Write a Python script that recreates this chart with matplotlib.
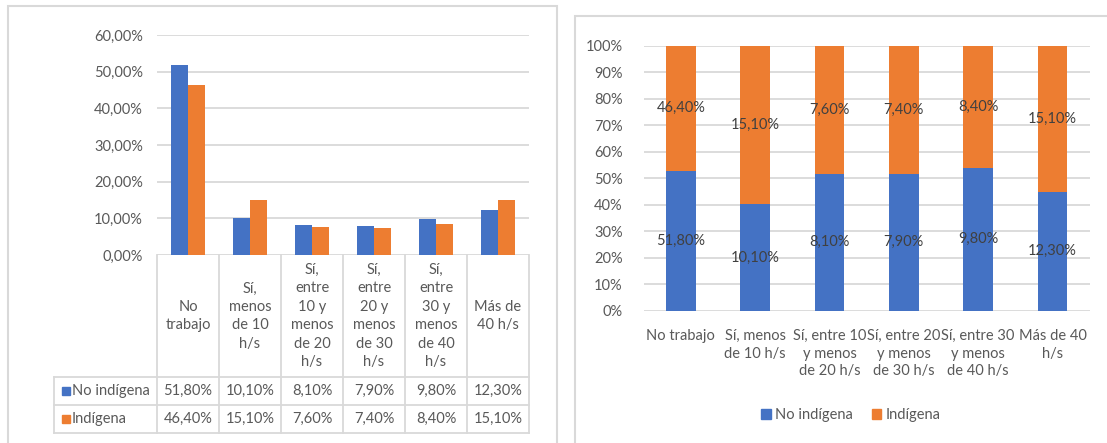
import matplotlib
matplotlib.use("Agg")
import matplotlib.pyplot as plt
import matplotlib.transforms as mtrans
from matplotlib.patches import Rectangle, Patch
from matplotlib.lines import Line2D

# ---------------- data ----------------
categories_chart = ["No trabajo", "Sí, menos\nde 10 h/s", "Sí, entre 10\ny menos\nde 20 h/s",
                    "Sí, entre 20\ny menos\nde 30 h/s", "Sí, entre 30\ny menos\nde 40 h/s",
                    "Más de 40\nh/s"]
categories_table = ["No\ntrabajo", "Sí,\nmenos\nde 10\nh/s", "Sí,\nentre\n10 y\nmenos\nde 20\nh/s",
                    "Sí,\nentre\n20 y\nmenos\nde 30\nh/s", "Sí,\nentre\n30 y\nmenos\nde 40\nh/s",
                    "Más de\n40 h/s"]
series_names = ["No indígena", "Indígena"]
no_indigena = [51.8, 10.1, 8.1, 7.9, 9.8, 12.3]
indigena = [46.4, 15.1, 7.6, 7.4, 8.4, 15.1]
left_ticks = [0, 10, 20, 30, 40, 50, 60]
right_ticks = [0, 10, 20, 30, 40, 50, 60, 70, 80, 90, 100]

BLUE = "#4472C4"
ORANGE = "#ED7D31"
GRID = "#D9D9D9"
TXT = "#595959"
LBL = "#404040"
FONT = "Lato"
FS = 10.5

W, H = 1107, 443
fig = plt.figure(figsize=(W / 100, H / 100), dpi=100)
fig.patch.set_facecolor("white")
plt.rcParams["font.family"] = [FONT, "DejaVu Sans"]


def fx(x):
    return x / W


def fy(y):
    return 1 - y / H


def fmt(v, dec=2):
    return (f"{v:.{dec}f}%").replace(".", ",")


# panel borders
fig.add_artist(Rectangle((fx(8), fy(445)), fx(557) - fx(8), fy(6) - fy(445),
                         transform=fig.transFigure, fill=False, edgecolor=GRID, lw=1.5))
fig.add_artist(Rectangle((fx(575), fy(445)), fx(1112) - fx(575), fy(16) - fy(445),
                         transform=fig.transFigure, fill=False, edgecolor=GRID, lw=1.5))

# ---------------- left chart ----------------
L_left, L_right, L_top, L_bot = 157, 529, 35, 255
ax1 = fig.add_axes([fx(L_left), fy(L_bot), fx(L_right) - fx(L_left), fy(L_top) - fy(L_bot)])
n = len(categories_chart)
xs = list(range(n))
bw = 0.28
ax1.bar([x - bw / 2 for x in xs], no_indigena, width=bw, color=BLUE, zorder=3)
ax1.bar([x + bw / 2 for x in xs], indigena, width=bw, color=ORANGE, zorder=3)
ax1.set_xlim(-0.5, n - 0.5)
ax1.set_ylim(0, 60)
ax1.set_yticks(left_ticks)
ax1.set_yticklabels([fmt(t) for t in left_ticks])
ax1.tick_params(axis="y", length=0, pad=10, labelsize=FS, labelcolor=TXT)
ax1.set_xticks([])
for s in ax1.spines.values():
    s.set_visible(False)
ax1.yaxis.grid(True, color=GRID, lw=1.3, zorder=0)
ax1.set_axisbelow(True)

# data table under the left chart
bt = mtrans.blended_transform_factory(ax1.transData, fig.transFigure)
px_per_cat = (L_right - L_left) / n
key_left_x = -0.5 - (L_left - 54) / px_per_cat
y_hdr_top, y_r1, y_r2, y_r3 = 255, 377, 405, 433
for b in [i - 0.5 for i in range(n + 1)]:
    fig.add_artist(Line2D([b, b], [fy(y_hdr_top), fy(y_r3)], transform=bt, color=GRID, lw=1.3))
fig.add_artist(Line2D([key_left_x, key_left_x], [fy(y_r1), fy(y_r3)], transform=bt, color=GRID, lw=1.3))
for yy in [y_r1, y_r2, y_r3]:
    fig.add_artist(Line2D([key_left_x, n - 0.5], [fy(yy), fy(yy)], transform=bt, color=GRID, lw=1.3))
for i, lab in enumerate(categories_table):
    fig.text(i, fy((y_hdr_top + y_r1) / 2), lab, transform=bt, ha="center", va="center",
             fontsize=FS, color=TXT, linespacing=1.4, family=[FONT, "DejaVu Sans"])
for row, (vals, col, name) in enumerate([(no_indigena, BLUE, series_names[0]),
                                          (indigena, ORANGE, series_names[1])]):
    ytop = [y_r1, y_r2][row]
    yc = ytop + 14
    fig.add_artist(Rectangle((fx(62), fy(yc + 4)), fx(70) - fx(62), fy(yc - 4) - fy(yc + 4),
                             transform=fig.transFigure, color=col))
    fig.text(fx(72), fy(yc), name, ha="left", va="center", fontsize=FS, color=TXT,
             family=[FONT, "DejaVu Sans"])
    for i, v in enumerate(vals):
        fig.text(i, fy(yc), fmt(v), transform=bt, ha="center", va="center", fontsize=FS,
                 color=TXT, family=[FONT, "DejaVu Sans"])

# ---------------- right chart ----------------
R_left, R_right, R_top, R_bot = 643.7, 1089.6, 45.7, 310.7
ax2 = fig.add_axes([fx(R_left), fy(R_bot), fx(R_right) - fx(R_left), fy(R_top) - fy(R_bot)])
tot = [a + b for a, b in zip(no_indigena, indigena)]
p_no = [a / t * 100 for a, t in zip(no_indigena, tot)]
p_in = [b / t * 100 for b, t in zip(indigena, tot)]
ax2.bar(xs, p_no, width=0.4, color=BLUE, zorder=3)
ax2.bar(xs, p_in, width=0.4, bottom=p_no, color=ORANGE, zorder=3)
for i in xs:
    ax2.text(i, p_no[i] / 2, fmt(no_indigena[i]), ha="center", va="center", fontsize=FS,
             color=LBL, zorder=4)
    ax2.text(i, p_no[i] + p_in[i] / 2, fmt(indigena[i]), ha="center", va="center", fontsize=FS,
             color=LBL, zorder=4)
ax2.set_xlim(-0.5, n - 0.5)
ax2.set_ylim(0, 100)
ax2.set_yticks(right_ticks)
ax2.set_yticklabels([f"{t}%" for t in right_ticks])
ax2.set_xticks(xs)
ax2.set_xticklabels(categories_chart, linespacing=1.35)
ax2.tick_params(axis="y", length=0, pad=15, labelsize=FS, labelcolor=TXT)
ax2.tick_params(axis="x", length=0, pad=13, labelsize=FS, labelcolor=TXT)
for s in ax2.spines.values():
    s.set_visible(False)
ax2.yaxis.grid(True, color=GRID, lw=1.3, zorder=0)
ax2.set_axisbelow(True)

handles = [Patch(color=BLUE, label=series_names[0]), Patch(color=ORANGE, label=series_names[1])]
fig.legend(handles=handles, loc="center", bbox_to_anchor=(fx(851), fy(415)), ncol=2,
           frameon=False, fontsize=FS, handlelength=0.65, handleheight=0.65, handletextpad=0.3,
           columnspacing=1.3, labelcolor=TXT)

fig.savefig("out.png", dpi=100, facecolor="white")
